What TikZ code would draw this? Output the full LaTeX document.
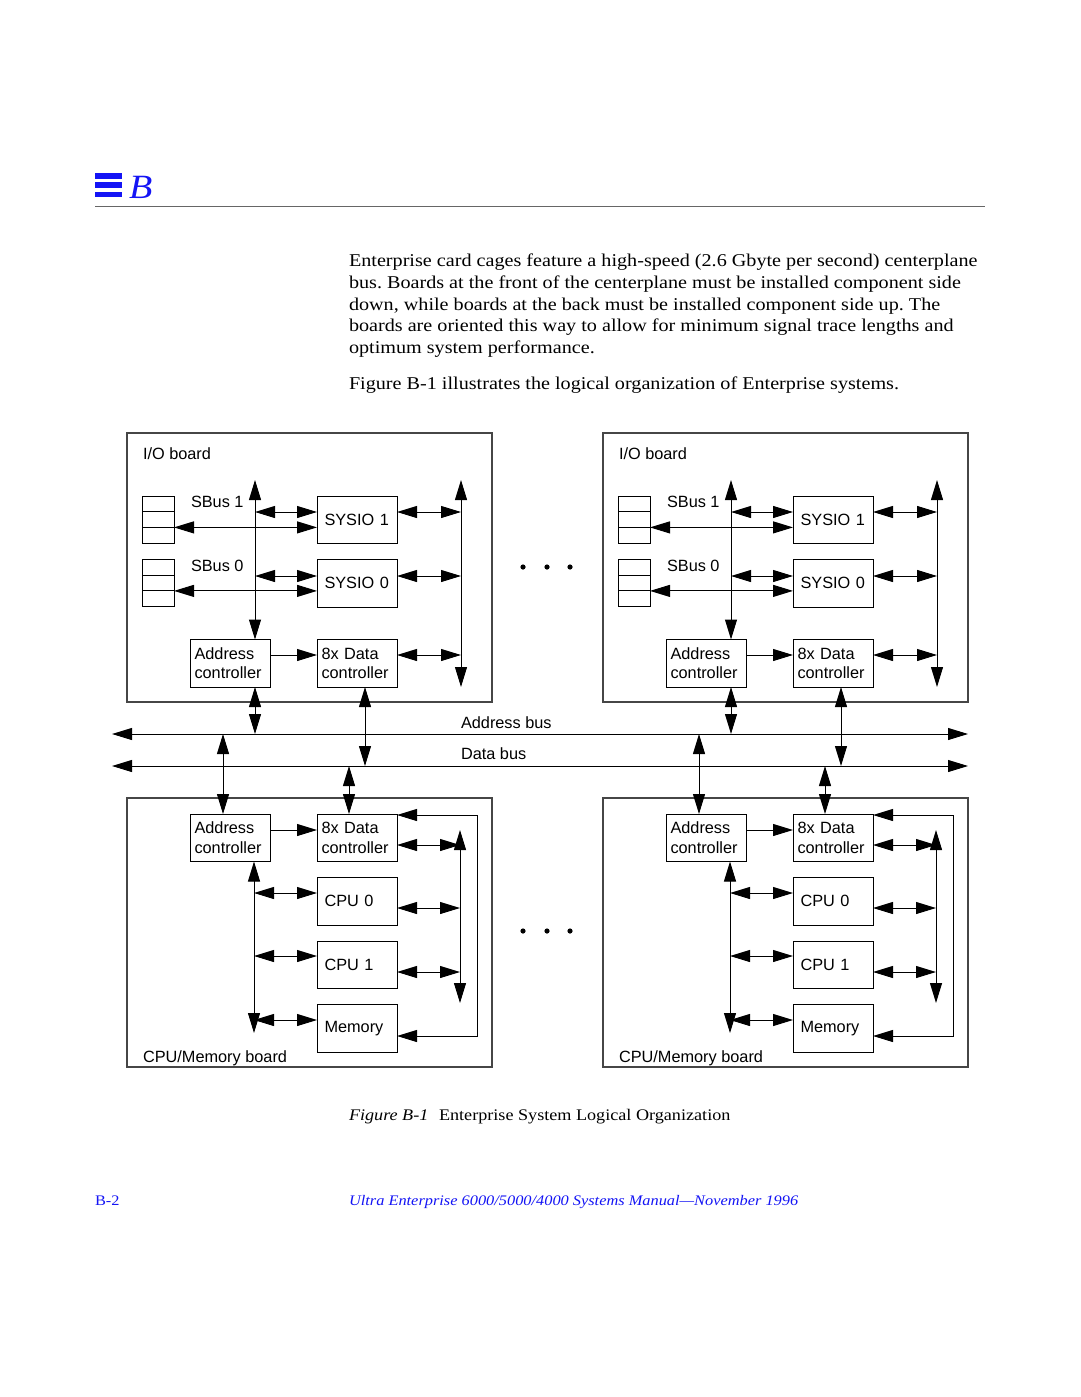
\documentclass[tikz,border=0pt]{standalone}
\usepackage{fontspec}
\setmainfont{Liberation Serif}[FakeStretch=1.12]
\newfontfamily\hv{Liberation Sans}
\usetikzlibrary{arrows.meta,calc}
\definecolor{sunblue}{RGB}{20,20,245}
\definecolor{boardgray}{RGB}{70,70,70}
\frenchspacing
\begin{document}
\begin{tikzpicture}[x=1pt,y=-1pt,
  >={Triangle[length=20pt,width=12pt]},
  dbl/.style={<->, line width=1pt},
  one/.style={->, line width=1pt},
  board/.style={draw=boardgray, line width=1.2pt, anchor=north west, minimum width=365pt, minimum height=269pt, inner sep=0pt, outer sep=0pt},
  blk2/.style={draw, line width=1pt, anchor=north west, minimum width=80pt, minimum height=47.5pt, inner xsep=4.5pt, text width=71pt, align=left, outer sep=0pt, font=\hv\fontsize{16.3}{19.5}\selectfont},
  blk1/.style={blk2, execute at begin node={\hspace*{3pt}}},
  slot/.style={draw, line width=1pt, minimum width=32pt, minimum height=15.7pt, inner sep=0pt, outer sep=0pt},
  lbl/.style={anchor=base west, inner sep=0pt, outer sep=0pt, font=\hv\fontsize{16.3}{19.5}\selectfont},
  txt/.style={anchor=base west, inner sep=0pt, outer sep=0pt, font=\fontsize{18}{22}\selectfont\frenchspacing},
  captxt/.style={txt, font=\fontsize{16.2}{20}\selectfont},
  foot/.style={txt, text=sunblue, font=\fontsize{14.6}{18}\selectfont}
]
\useasboundingbox[fill=white] (0,0) rectangle (1080,1397);

% ---------- header ----------
\fill[sunblue] (95,173) rectangle (122,178.5);
\fill[sunblue] (95,182) rectangle (122,188);
\fill[sunblue] (95,191.7) rectangle (122,197.3);
\node[anchor=base west, inner sep=0pt, text=sunblue, font=\fontsize{34}{36}\selectfont\itshape] (chap) at (129,198) {B};
\draw[line width=1pt, black!60] (95,206) -- (985,206);

% ---------- body text ----------
\node[txt] (t1) at (349,266) {Enterprise card cages feature a high-speed (2.6 Gbyte per second) centerplane};
\node[txt] (t2) at (349,288) {bus. Boards at the front of the centerplane must be installed component side};
\node[txt] (t3) at (349,310) {down, while boards at the back must be installed component side up. The};
\node[txt] (t4) at (349,331) {boards are oriented this way to allow for minimum signal trace lengths and};
\node[txt] (t5) at (349,353) {optimum system performance.};
\node[txt] (t6) at (349,389) {Figure B-1 illustrates the logical organization of Enterprise systems.};

% ---------- buses ----------
\coordinate (abusW) at (112,734); \coordinate (abusE) at (968,734);
\coordinate (dbusW) at (112,766); \coordinate (dbusE) at (968,766);
\draw[dbl] (abusW) -- (abusE);
\draw[dbl] (dbusW) -- (dbusE);
\node[lbl] (ablbl) at (461,728) {Address bus};
\node[lbl] (dblbl) at (461,759) {Data bus};

% ---------- boards ----------
\foreach \dx/\s in {0/L,476/R}{
\begin{scope}[xshift=\dx pt]
  % I/O board
  \node[board] (io\s) at (127,433) {};
  \node[lbl] (iolbl\s) at (143,459) {I/O board};
  \node[slot, anchor=north west] (s1a\s) at (142,496) {};
  \node[slot, anchor=north] (s1b\s) at (s1a\s.south) {};
  \node[slot, anchor=north] (s1c\s) at (s1b\s.south) {};
  \node[slot, anchor=north west] (s0a\s) at (142,559.5) {};
  \node[slot, anchor=north] (s0b\s) at (s0a\s.south) {};
  \node[slot, anchor=north] (s0c\s) at (s0b\s.south) {};
  \node[lbl] (sb1lbl\s) at (191,507) {SBus 1};
  \node[lbl] (sb0lbl\s) at (191,571) {SBus 0};
  \node[blk1] (sy1\s) at (317,496) {SYSIO 1};
  \node[blk1] (sy0\s) at (317,559.5) {SYSIO 0};
  \node[blk2] (ac\s) at (190,639.5) {Address\\controller};
  \node[blk2] (dc\s) at (317,639.5) {8x Data\\controller};
  \coordinate (iaTop\s) at (255,480);
  \coordinate (idTop\s) at (461,480);
  \coordinate (idBot\s) at (461,687);
  \coordinate (iy1\s) at (0,512);
  \coordinate (iy2\s) at (0,576);
  \coordinate (iy3\s) at (0,655);
  \coordinate (idx\s) at (365,0);
  \draw[dbl] (iaTop\s) -- (iaTop\s |- ac\s.north);
  \draw[dbl] (idTop\s) -- (idBot\s);
  \draw[dbl] (iaTop\s |- iy1\s) -- (sy1\s.west |- iy1\s);
  \draw[dbl] (s1b\s.south east) -- (s1b\s.south east -| sy1\s.west);
  \draw[dbl] (iaTop\s |- iy2\s) -- (sy0\s.west |- iy2\s);
  \draw[dbl] (s0b\s.south east) -- (s0b\s.south east -| sy0\s.west);
  \draw[dbl] (sy1\s.east |- iy1\s) -- (idTop\s |- iy1\s);
  \draw[dbl] (sy0\s.east |- iy2\s) -- (idTop\s |- iy2\s);
  \draw[dbl] (dc\s.east |- iy3\s) -- (idTop\s |- iy3\s);
  \draw[one] (ac\s.east |- iy3\s) -- (dc\s.west |- iy3\s);
  % I/O board to buses
  \draw[dbl] (ac\s.south -| iaTop\s) -- (iaTop\s |- abusW);
  \draw[dbl] (dc\s.south -| idx\s) -- (idx\s |- dbusW);

  % CPU/Memory board
  \node[board] (cb\s) at (127,798) {};
  \node[lbl] (cblbl\s) at (143,1062) {CPU/Memory board};
  \node[blk2] (cac\s) at (190,814) {Address\\controller};
  \node[blk2] (cdc\s) at (317,814) {8x Data\\controller};
  \node[blk1] (cpu0\s) at (317,877.5) {CPU 0};
  \node[blk1] (cpu1\s) at (317,941) {CPU 1};
  \node[blk1] (mem\s) at (317,1004.5) {Memory};
  \coordinate (cl\s) at (254,1033);
  \coordinate (crt\s) at (460,830);
  \coordinate (crb\s) at (460,1003);
  \coordinate (lp1\s) at (477,1036);
  \coordinate (lp2\s) at (477,815);
  \coordinate (c1\s) at (0,893);
  \coordinate (c2\s) at (0,956);
  \coordinate (c3\s) at (0,1020);
  \coordinate (r1\s) at (0,845);
  \coordinate (r2\s) at (0,908);
  \coordinate (r3\s) at (0,972);
  \coordinate (cax\s) at (223,0);
  \coordinate (cdx\s) at (349,0);
  \draw[dbl] (cac\s.south -| cl\s) -- (cl\s);
  \draw[dbl] (cl\s |- c1\s) -- (cpu0\s.west |- c1\s);
  \draw[dbl] (cl\s |- c2\s) -- (cpu1\s.west |- c2\s);
  \draw[dbl] (cl\s |- c3\s) -- (mem\s.west |- c3\s);
  \draw[one] (cac\s.east |- crt\s) -- (cdc\s.west |- crt\s);
  \draw[dbl] (crt\s) -- (crb\s);
  \draw[dbl] (cdc\s.east |- r1\s) -- (crt\s |- r1\s);
  \draw[dbl] (cpu0\s.east |- r2\s) -- (crt\s |- r2\s);
  \draw[dbl] (cpu1\s.east |- r3\s) -- (crt\s |- r3\s);
  \draw[dbl] (mem\s.east |- lp1\s) -- (lp1\s) -- (lp2\s) -- (cdc\s.east |- lp2\s);
  % buses to CPU/Memory board
  \draw[dbl] (cax\s |- abusW) -- (cax\s |- cac\s.north);
  \draw[dbl] (cdx\s |- dbusW) -- (cdx\s |- cdc\s.north);
\end{scope}
}

% ---------- ellipsis dots ----------
\foreach \y in {567,931}{
  \fill (523,\y) circle[radius=2.6pt];
  \fill (547,\y) circle[radius=2.6pt];
  \fill (570,\y) circle[radius=2.6pt];
}

% ---------- caption and footer ----------
\node[captxt] (capnum) at (349,1120) {\itshape Figure B-1};
\node[captxt] (captxt) at (439,1120) {Enterprise System Logical Organization};
\node[foot] (pgno) at (95,1205) {B-2};
\node[foot] (manual) at (349,1205) {\itshape Ultra Enterprise 6000/5000/4000 Systems Manual—November 1996};
\end{tikzpicture}
\end{document}
